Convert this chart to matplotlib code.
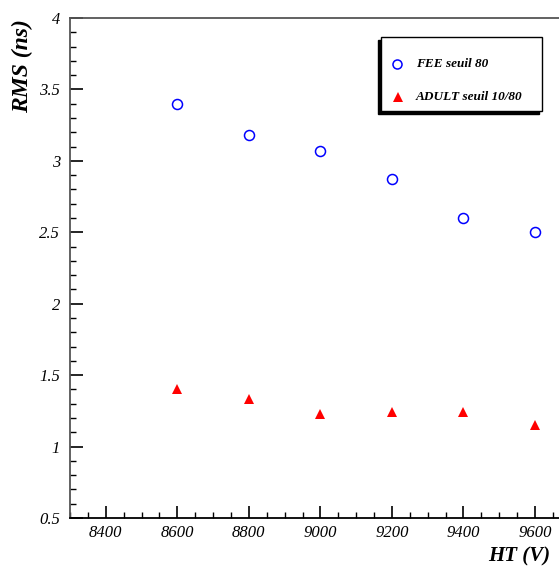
import matplotlib
matplotlib.use("Agg")
import matplotlib.pyplot as plt
from matplotlib.patches import Rectangle
from matplotlib.ticker import MultipleLocator

ht = [8600, 8800, 9000, 9200, 9400, 9600]
fee_rms = [3.40, 3.18, 3.07, 2.87, 2.60, 2.50]
adult_rms = [1.40, 1.33, 1.23, 1.24, 1.24, 1.15]
fee_label = "FEE seuil 80"
adult_label = "ADULT seuil 10/80"

W, H = 559, 567
fig = plt.figure(figsize=(W / 100, H / 100), dpi=100)
ax = fig.add_axes([70 / W, (H - 518) / H, (W - 70) / W, 500 / H])

ax.plot(ht, fee_rms, linestyle="none", marker="o", markersize=7.2,
        markerfacecolor="none", markeredgecolor="#0000ff", markeredgewidth=1.1)
ax.plot(ht, adult_rms, linestyle="none", marker="^", markersize=6.5,
        color="#ff0000", markeredgewidth=0)

ax.spines["right"].set_visible(False)
ax.spines["top"].set_color("#555555")
ax.spines["left"].set_color("#555555")
ax.spines["bottom"].set_color("black")
for s in ax.spines.values():
    s.set_linewidth(1.3)

ax.xaxis.set_major_locator(MultipleLocator(200))
ax.xaxis.set_minor_locator(MultipleLocator(50))
ax.yaxis.set_major_locator(MultipleLocator(0.5))
ax.yaxis.set_minor_locator(MultipleLocator(0.1))
ax.tick_params(which="both", direction="in", top=False, right=False)
ax.tick_params(which="major", length=9, width=1.2)
ax.tick_params(which="minor", length=4, width=1.0)
ax.tick_params(axis="x", pad=5)
ax.tick_params(axis="y", pad=7)

tfont = dict(family="Liberation Serif", style="italic", size=12)
xt = [8400, 8600, 8800, 9000, 9200, 9400, 9600]
ax.set_xticks(xt)
ax.set_xticklabels([f"{v}" for v in xt], fontdict=tfont)
yt = [0.5, 1, 1.5, 2, 2.5, 3, 3.5, 4]
ax.set_yticks(yt)
ax.set_yticklabels([f"{v:g}" for v in yt], fontdict=tfont)
ax.set_xlim(8300, 9667)
ax.set_ylim(0.5, 4.0)

lfont = dict(family="Liberation Serif", style="italic", weight="bold", size=15)
fig.text(550 / W, 1 - 556 / H, "HT (V)", ha="right", va="center", **lfont)
fig.text(22 / W, 1 - 19 / H, "RMS (ns)", ha="center", va="top", rotation=90,
         family="Liberation Serif", style="italic", weight="bold", size=17)

# legend box with shadow
fig.patches.append(Rectangle((378 / W, 1 - 114 / H), (542 - 381) / W, (111 - 37) / H,
                             transform=fig.transFigure, facecolor="black",
                             edgecolor="black", zorder=5))
fig.patches.append(Rectangle((381 / W, 1 - 111 / H), (542 - 381) / W, (111 - 37) / H,
                             transform=fig.transFigure, facecolor="white",
                             edgecolor="black", linewidth=1.0, zorder=6))
fig.lines.append(plt.Line2D([397 / W], [1 - 64 / H], transform=fig.transFigure,
                            marker="o", markersize=6.5, markerfacecolor="none",
                            markeredgecolor="#0000ff", markeredgewidth=1.1, zorder=7))
fig.lines.append(plt.Line2D([398 / W], [1 - 97 / H], transform=fig.transFigure,
                            marker="^", markersize=6.5, color="#ff0000",
                            markeredgewidth=0, zorder=7))
legfont = dict(family="Liberation Serif", style="italic", weight="bold", size=9.5)
fig.text(416 / W, 1 - 64 / H, fee_label, ha="left", va="center", zorder=8, **legfont)
fig.text(416 / W, 1 - 97 / H, adult_label, ha="left", va="center", zorder=8, **legfont)

fig.savefig("out.png", dpi=100)
